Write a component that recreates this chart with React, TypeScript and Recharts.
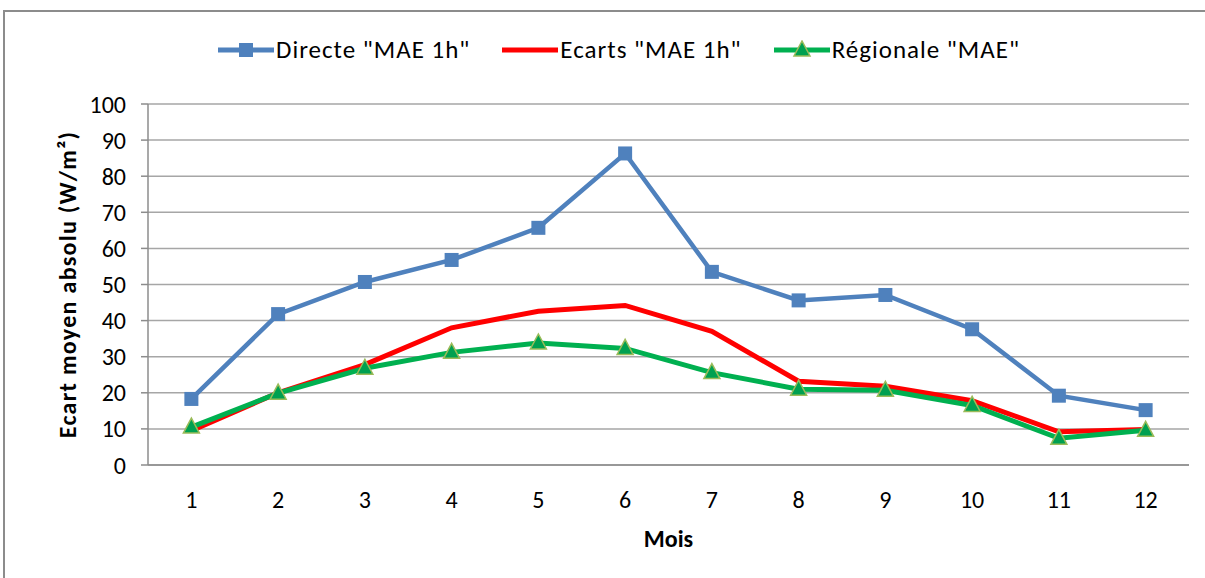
import { LineChart, Line, XAxis, YAxis, CartesianGrid } from 'recharts'

const mois = [1, 2, 3, 4, 5, 6, 7, 8, 9, 10, 11, 12]
const directe = [18.3, 41.8, 50.7, 56.8, 65.7, 86.3, 53.5, 45.6, 47.1, 37.6, 19.2, 15.2]
const ecarts = [9.5, 20, 27.8, 38, 42.6, 44.2, 37, 23.2, 21.8, 17.8, 9.2, 9.8]
const regionale = [10.5, 19.9, 26.8, 31.2, 33.8, 32.3, 25.6, 21, 20.7, 16.5, 7.4, 9.6]
const yTicks = [0, 10, 20, 30, 40, 50, 60, 70, 80, 90, 100]
const boundaryTicks = [0.5, 1.5, 2.5, 3.5, 4.5, 5.5, 6.5, 7.5, 8.5, 9.5, 10.5, 11.5, 12.5]

const seriesNames = ['Directe "MAE 1h"', 'Ecarts "MAE 1h"', 'Régionale "MAE"']

const FONT = 'Carlito, Lato, "Open Sans", sans-serif'
const BLUE = '#4F81BD'
const RED = '#FF0000'
const GREEN = '#00B050'
const GRID = '#A6A6A6'
const AXIS = '#8C8C8C'

const data = mois.map((m, i) => ({
  mois: m,
  directe: directe[i],
  ecarts: ecarts[i],
  regionale: regionale[i],
}))

function Square({ cx, cy }: any) {
  if (cx == null || cy == null) return null
  return <rect x={cx - 7} y={cy - 7} width={14} height={14} fill={BLUE} />
}

function Triangle({ cx, cy }: any) {
  if (cx == null || cy == null) return null
  return (
    <polygon
      points={`${cx},${cy - 9} ${cx - 8},${cy + 6} ${cx + 8},${cy + 6}`}
      fill="#00A050"
      stroke="#9BBB59"
      strokeWidth={1.5}
    />
  )
}

function ChartLegend() {
  const items = [
    { name: seriesNames[0], color: BLUE, marker: 'square' },
    { name: seriesNames[1], color: RED, marker: 'none' },
    { name: seriesNames[2], color: GREEN, marker: 'triangle' },
  ]
  return (
    <div
      style={{
        position: 'absolute',
        left: 0,
        top: 34,
        width: 1238,
        display: 'flex',
        justifyContent: 'center',
        gap: 32,
        fontFamily: FONT,
        fontSize: 25,
        letterSpacing: 1,
        color: '#000',
        lineHeight: '32px',
      }}
    >
      {items.map(it => (
        <div key={it.name} style={{ display: 'flex', alignItems: 'center' }}>
          <svg width={56} height={20} style={{ marginRight: 2 }}>
            <line x1={0} y1={10} x2={56} y2={10} stroke={it.color} strokeWidth={5} />
            {it.marker === 'square' && <rect x={21} y={3} width={14} height={14} fill={BLUE} />}
            {it.marker === 'triangle' && (
              <polygon points="28,1 20,16 36,16" fill="#00A050" stroke="#9BBB59" strokeWidth={1.5} />
            )}
          </svg>
          <span>{it.name}</span>
        </div>
      ))}
    </div>
  )
}

function YLabel({ viewBox }: any) {
  const cy = viewBox.y + viewBox.height / 2
  return (
    <text
      x={67}
      y={cy}
      transform={`rotate(-90, 67, ${cy})`}
      textAnchor="middle"
      dominantBaseline="central"
      fontFamily={FONT}
      fontSize={24}
      fontWeight="bold"
      letterSpacing={1.3}
      fill="#000"
    >
      Ecart moyen absolu (W/m²)
    </text>
  )
}

export default function App() {
  return (
    <div style={{ position: 'fixed', left: 0, top: 0, width: 1205, height: 578, overflow: 'hidden', background: '#fff' }}>
      <div
        style={{
          position: 'absolute',
          left: 3,
          top: 10,
          width: 1300,
          height: 700,
          borderLeft: `2px solid ${AXIS}`,
          borderTop: `2px solid ${AXIS}`,
        }}
      />
      <ChartLegend />
      <div style={{ position: 'absolute', left: 0, top: 0 }}>
        <LineChart width={1205} height={578} data={data} margin={{ top: 104, right: 16, left: 88, bottom: 30 }}>
          <CartesianGrid vertical={false} stroke={GRID} strokeWidth={1.5} />
          <XAxis
            dataKey="mois"
            type="number"
            domain={[0.5, 12.5]}
            ticks={mois}
            interval={0}
            tickLine={false}
            axisLine={{ stroke: AXIS, strokeWidth: 1.5 }}
            tick={{ fill: '#000', fontSize: 24, fontFamily: FONT }}
            tickMargin={20}
            height={82}
            label={{ value: 'Mois', position: 'insideBottom', offset: 0, fill: '#000', fontSize: 24, fontWeight: 'bold', fontFamily: FONT }}
          />
          <XAxis
            xAxisId="bounds"
            dataKey="mois"
            type="number"
            domain={[0.5, 12.5]}
            ticks={boundaryTicks}
            interval={0}
            tick={false}
            tickSize={7}
            axisLine={false}
            tickLine={{ stroke: AXIS, strokeWidth: 1.5 }}
            height={1}
          />
          <YAxis
            domain={[0, 100]}
            ticks={yTicks}
            interval={0}
            width={60}
            tickSize={7}
            tickMargin={15}
            axisLine={{ stroke: AXIS, strokeWidth: 1.5 }}
            tickLine={{ stroke: AXIS, strokeWidth: 1.5 }}
            tick={{ fill: '#000', fontSize: 24, fontFamily: FONT }}
            label={<YLabel />}
          />
          <Line
            dataKey="directe"
            name={seriesNames[0]}
            stroke={BLUE}
            strokeWidth={4.5}
            dot={<Square />}
            activeDot={false}
            isAnimationActive={false}
          />
          <Line
            dataKey="ecarts"
            name={seriesNames[1]}
            stroke={RED}
            strokeWidth={5}
            dot={false}
            activeDot={false}
            isAnimationActive={false}
          />
          <Line
            dataKey="regionale"
            name={seriesNames[2]}
            stroke={GREEN}
            strokeWidth={5}
            dot={<Triangle />}
            activeDot={false}
            isAnimationActive={false}
          />
        </LineChart>
      </div>
    </div>
  )
}
